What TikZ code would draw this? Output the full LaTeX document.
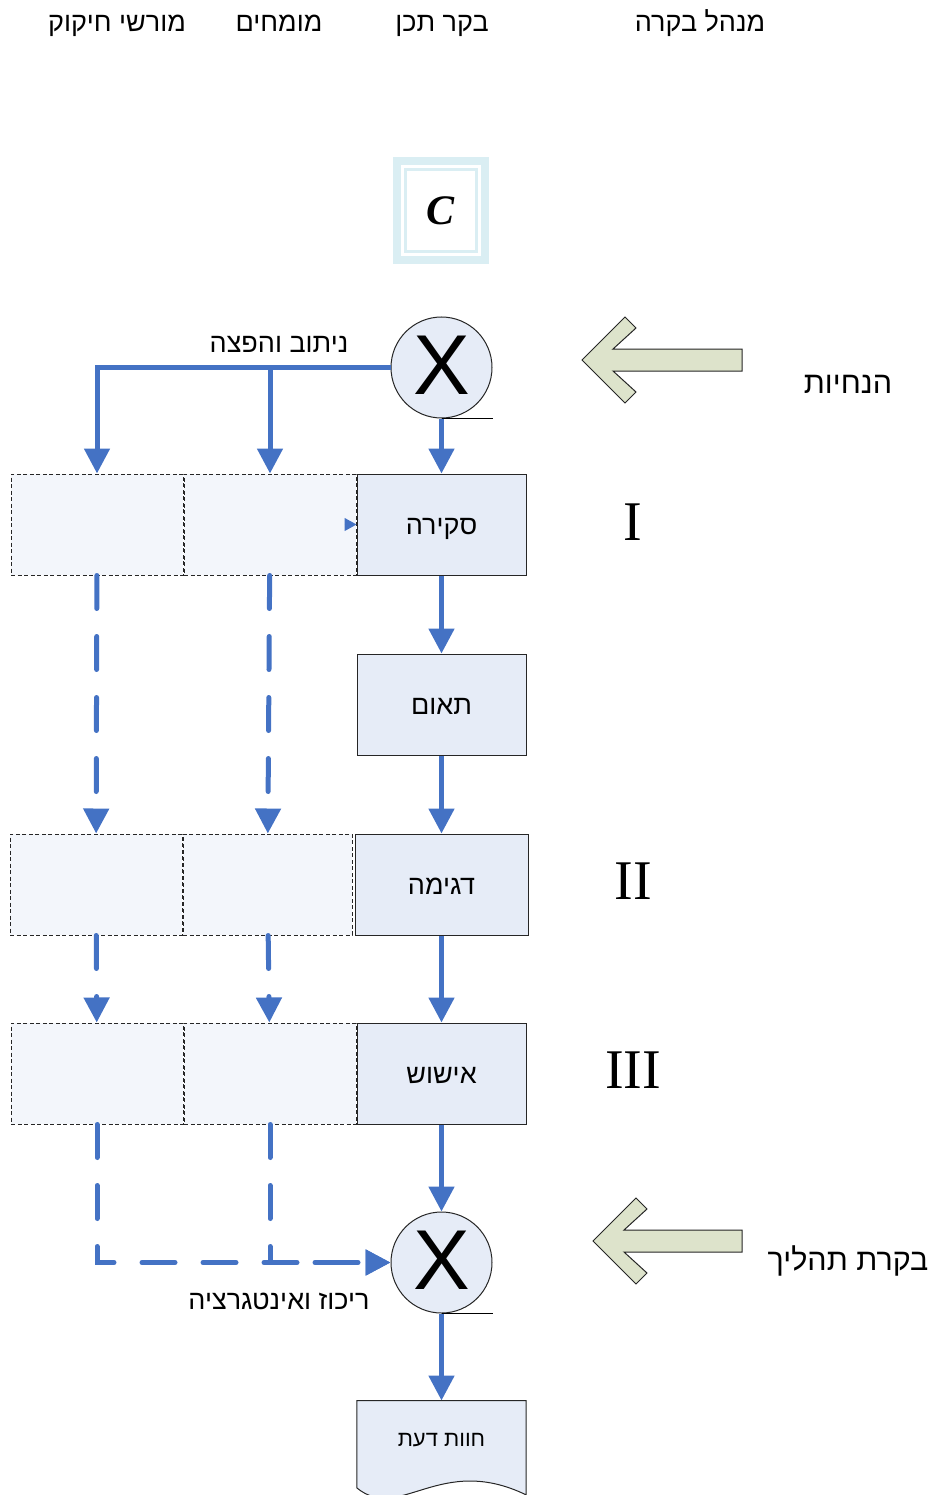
\documentclass[tikz,border=0pt]{standalone}
\usepackage{fontspec}
\setmainfont{Liberation Sans}
\newfontfamily\heb[Script=Hebrew]{Liberation Sans}
\newfontfamily\romanfont{Liberation Serif}
\usetikzlibrary{positioning,arrows.meta,calc}
\TeXXeTstate=1
\newcommand{\hebtxt}[1]{{\heb\beginR #1\endR}}
\definecolor{flowblue}{HTML}{4472C4}
\definecolor{boxfill}{HTML}{E6ECF7}
\definecolor{ghostfill}{HTML}{F3F6FB}
\definecolor{hintfill}{HTML}{DDE3CB}
\definecolor{frameblue}{HTML}{DAEEF3}

\begin{document}
\begin{tikzpicture}[x=1pt, y=-1pt, node distance=78pt]

    \tikzstyle{stage} = [rectangle, draw=black!85, line width=1pt, fill=boxfill, minimum width=169pt, minimum height=101pt, inner sep=0pt, text height=19pt, text depth=0pt, font=\fontsize{27}{32}\selectfont]
    \tikzstyle{ghost} = [rectangle, draw=black!85, line width=1pt, dash pattern=on 4pt off 2.5pt, fill=ghostfill, minimum width=172pt, minimum height=101pt]
    \tikzstyle{junction} = [circle, draw=black!85, line width=1pt, fill=boxfill, minimum size=101pt, inner sep=0pt, font=\fontsize{85}{85}\selectfont]
    \tikzstyle{arrow} = [line width=5pt, flowblue, -{Triangle[length=25pt,width=25pt]}]
    \tikzstyle{dasharrow} = [arrow, dash pattern=on 33pt off 28pt, line cap=round]
    \tikzstyle{tinyarrow} = [line width=1pt, flowblue, -{Triangle[length=12pt,width=13pt]}]
    \tikzstyle{note} = [inner sep=0pt, text height=19pt, text depth=0pt, font=\fontsize{27}{32}\selectfont]
    \tikzstyle{numeral} = [inner sep=0pt, font=\romanfont\fontsize{56}{60}\selectfont]
    \tikzstyle{hint} = [draw=black!85, line width=1pt, fill=hintfill]

    \useasboundingbox (0,0) rectangle (936,1495);

    % column headings
    \node (hlaw) [note] at (117,22) {\hebtxt{מורשי חיקוק}};
    \node (hexp) [note] at (279,22) {\hebtxt{מומחים}};
    \node (hdes) [note] at (442,22) {\hebtxt{בקר תכן}};
    \node (hmgr) [note] at (700,22) {\hebtxt{מנהל בקרה}};

    % framed C
    \node (cbox) [draw=frameblue, line width=8pt, minimum width=88pt, minimum height=99pt, inner sep=0pt,
        font=\romanfont\bfseries\itshape\fontsize{42}{42}\selectfont] at (440.5,211) {\raisebox{-3pt}{C}};
    \draw [frameblue, line width=3pt] ([shift={(12.5,12.5)}]cbox.north west) rectangle ([shift={(-12.5,-12.5)}]cbox.south east);

    % main column
    \node (mixin) [junction] at (441.5,367.5) {\raisebox{5pt}{X}};
    \draw (mixin.south) -- ++(51,0);
    \node (review) [stage, below=55pt of mixin] {\hebtxt{סקירה}};
    \node (coord) [stage, below=of review] {\hebtxt{תאום}};
    \node (sample) [stage, below=of coord, minimum width=173pt] {\hebtxt{דגימה}};
    \node (verify) [stage, below=87pt of sample] {\hebtxt{אישוש}};
    \node (merge) [junction, below=87pt of verify] {\raisebox{5pt}{X}};
    \draw (merge.south) -- ++(51,0);
    \node (opinion) [below=87pt of merge, minimum width=169pt, minimum height=76pt, inner sep=0pt] {};
    \draw [draw=black!85, line width=1pt, fill=boxfill] ([yshift=-11pt]opinion.south west) -- (opinion.north west)
        -- (opinion.north east) -- ([yshift=-18pt]opinion.south east)
        .. controls ($(opinion.south west)+(83,-24)$) and ($(opinion.south west)+(43,46)$) .. ([yshift=-11pt]opinion.south west) -- cycle;
    \node [note, text height=15.5pt, font=\fontsize{22}{26}\selectfont] at (opinion) {\hebtxt{חוות דעת}};

    % side columns
    \node (exp1) [ghost, left=0pt of review] {};
    \node (leg1) [ghost, left=0pt of exp1] {};
    \node (exp2) [ghost, left=2pt of sample, minimum width=169pt] {};
    \node (leg2) [ghost, left=0pt of exp2] {};
    \node (exp3) [ghost, left=0pt of verify] {};
    \node (leg3) [ghost, left=0pt of exp3] {};

    % stage numerals
    \node (n1) [numeral] at (633,522) {I};
    \node (n2) [numeral] at (633,881) {II};
    \node (n3) [numeral] at (633,1070) {III};

    % guidance and process control
    \foreach \tx/\ty in {582/360, 593/1241} {
        \draw [hint] (\tx,\ty) -- ++(43,-43) -- ++(11,11) -- ++(-23,21) -- (742,\ty-11)
            -- (742,\ty+11) -- (\tx+31,\ty+11) -- ++(23,21) -- ++(-11,11) -- cycle;
    }
    \node (guide) [note, text height=21.5pt, font=\fontsize{30.5}{34}\selectfont] at (848,383) {\hebtxt{הנחיות}};
    \node (pctrl) [note, text height=21.5pt, font=\fontsize{30.5}{34}\selectfont] at (848,1260) {\hebtxt{בקרת תהליך}};

    % connectors
    \coordinate (fork) at (mixin.west -| exp1.north);
    \coordinate (feed) at ([xshift=-12pt]review.west);
    \draw [arrow] (mixin.west) -| (leg1.north);
    \draw [arrow] (fork) -- (exp1.north);
    \node (route) [note] at (279,343) {\hebtxt{ניתוב והפצה}};
    \draw [arrow] (mixin) -- (review);
    \draw [tinyarrow] (feed) -- (review.west);
    \draw [arrow] (review) -- (coord);
    \draw [arrow] (coord) -- (sample);
    \draw [arrow] (sample) -- (verify);
    \draw [arrow] (verify) -- (merge);
    \draw [arrow] (merge) -- (opinion);

    \draw [dasharrow] (leg1) -- (leg2);
    \draw [dasharrow] (exp1) -- (exp2);
    \draw [dasharrow] (leg2) -- (leg3);
    \draw [dasharrow] (exp2) -- (exp3);
    \draw [dasharrow] (leg3.south) |- (merge.west);
    \draw [dasharrow] (exp3.south) |- (merge.west);
    \node (gather) [note] at (279,1300) {\hebtxt{ריכוז ואינטגרציה}};

\end{tikzpicture}
\end{document}
